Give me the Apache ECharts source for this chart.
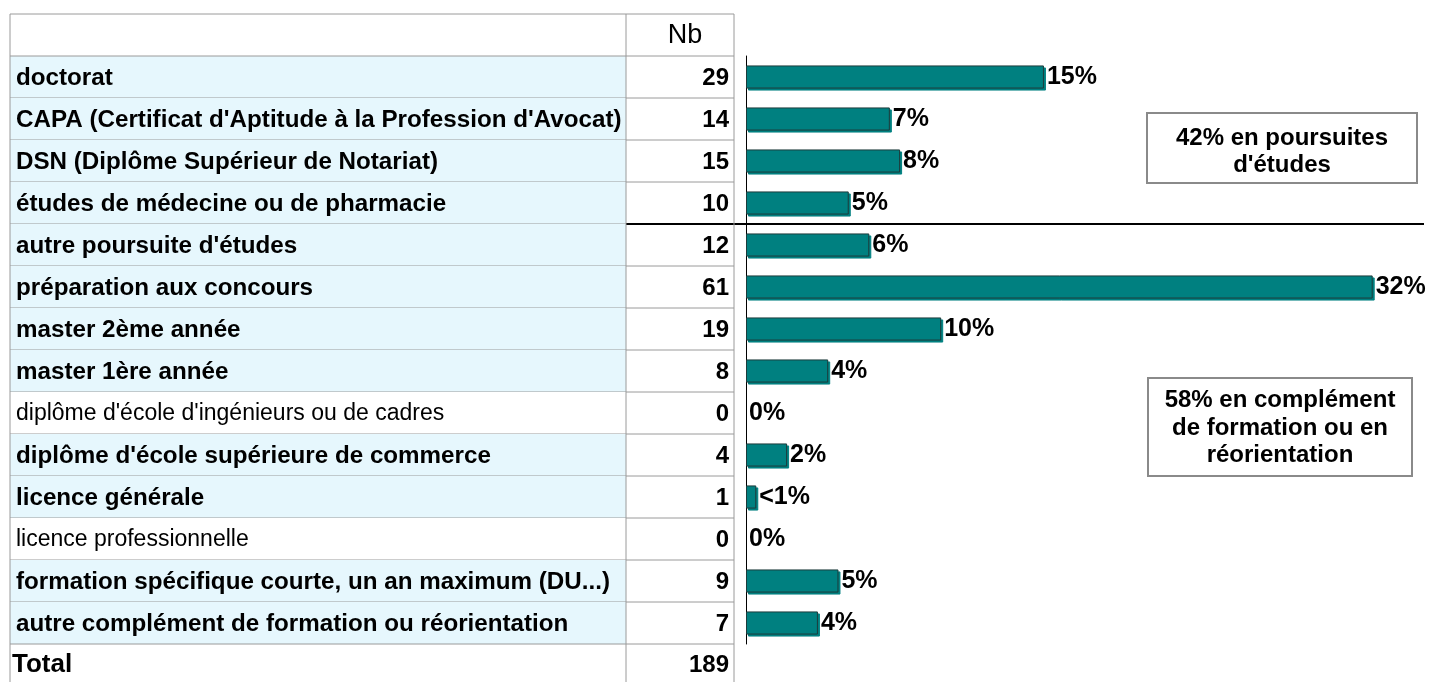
<!DOCTYPE html>
<html>
<head>
<meta charset="utf-8">
<script src="https://cdn.jsdelivr.net/npm/echarts@6/dist/echarts.min.js"></script>
<style>
html, body { margin: 0; padding: 0; background: #fff; }
#chart { width: 1429px; height: 682px; }
</style>
</head>
<body>
<div id="chart"></div>
<script>
var font = "'Liberation Sans', Arial, sans-serif";

// données du tableau
var categories = [
	"doctorat",
	"CAPA (Certificat d'Aptitude à la Profession d'Avocat)",
	"DSN (Diplôme Supérieur de Notariat)",
	"études de médecine ou de pharmacie",
	"autre poursuite d'études",
	"préparation aux concours",
	"master 2ème année",
	"master 1ère année",
	"diplôme d'école d'ingénieurs ou de cadres",
	"diplôme d'école supérieure de commerce",
	"licence générale",
	"licence professionnelle",
	"formation spécifique courte, un an maximum (DU...)",
	"autre complément de formation ou réorientation"
];
var counts = [29, 14, 15, 10, 12, 61, 19, 8, 0, 4, 1, 0, 9, 7];
var headerLabel = 'Nb';
var totalLabel = 'Total';
var notes = [
	"42% en poursuites\nd'études",
	"58% en complément\nde formation ou en\nréorientation"
];
var splitAfter = 3; // trait noir sous cette ligne

var total = 0;
for(var i = 0; i < counts.length; i++) {
	total += counts[i];
}

// colonnes du tableau
var colLeft = 10, colSep = 626, colRight = 734;
var gridTop = 56, gridH = 588;
var gray = '#9a9a9a';

function pct(v) {
	var p = v / total * 100;
	if(v > 0 && p < 1) return '<1%';
	return Math.round(p) + '%';
}

var option = {
	backgroundColor: '#fff',
	animation: false,
	grid: {
		left: 746,
		top: gridTop,
		width: 676,
		height: gridH
	},
	xAxis: {
		type: 'value',
		min: 0,
		max: 65.8,
		show: false
	},
	yAxis: {
		type: 'category',
		inverse: true,
		data: categories,
		axisLine: { show: true, lineStyle: { color: '#000', width: 1 } },
		axisTick: { show: false },
		axisLabel: { show: false },
		splitLine: { show: false }
	},
	graphic: [],
	series: [{
		name: 'Nb',
		type: 'bar',
		data: counts.map(function(v) {
			// pas de trait pour les valeurs nulles
			return v === 0 ? { value: v, itemStyle: { borderWidth: 0, shadowColor: 'rgba(0,0,0,0)' } } : v;
		}),
		barCategoryGap: '45%',
		itemStyle: {
			color: '#008080',
			borderColor: '#1d3b3b',
			borderWidth: 1,
			shadowColor: '#008080',
			shadowOffsetX: 2,
			shadowOffsetY: 2,
			shadowBlur: 0
		},
		label: {
			show: true,
			position: 'right',
			distance: 3,
			color: '#000',
			fontFamily: font,
			fontWeight: 'bold',
			fontSize: 25,
			formatter: function(p) {
				return pct(p.value);
			}
		},
		z: 3
	}, {
		// lignes du tableau
		type: 'custom',
		data: counts.map(function(c, i) { return [0, i]; }),
		encode: { x: 0, y: 1 },
		clip: false,
		z: 1,
		renderItem: function(params, api) {
			var idx = api.value(1);
			var yc = api.coord([0, idx])[1];
			var h = api.size([0, 1])[1];
			var top = yc - h / 2;
			var bold = counts[idx] > 0;
			var children = [{
				type: 'rect',
				shape: { x: colLeft, y: top, width: colSep - colLeft, height: h },
				style: { fill: bold ? '#e6f7fd' : '#fff' }
			}, {
				type: 'line',
				shape: { x1: colLeft, y1: top + h, x2: colRight, y2: top + h },
				style: { stroke: gray, lineWidth: 1 }
			}, {
				type: 'text',
				style: {
					x: colLeft + 6, y: yc + 1,
					text: categories[idx],
					fill: '#000',
					font: bold ? 'bold 24.2px ' + font : '23px ' + font,
					verticalAlign: 'middle'
				}
			}, {
				type: 'text',
				style: {
					x: colRight - 5, y: yc + 1,
					text: String(counts[idx]),
					fill: '#000',
					font: 'bold 24px ' + font,
					align: 'right',
					verticalAlign: 'middle'
				}
			}];
			if(idx === splitAfter) {
				children.push({
					type: 'line',
					shape: { x1: colSep, y1: top + h, x2: 1424, y2: top + h },
					style: { stroke: '#000', lineWidth: 2 },
					z2: 10
				});
			}
			return { type: 'group', children: children };
		}
	}]
};

// en-tête, total, bordures verticales, encadrés
var g = option.graphic;
g.push({ type: 'line', z: 100, shape: { x1: colLeft, y1: 14, x2: colRight, y2: 14 }, style: { stroke: gray } });
g.push({ type: 'line', z: 100, shape: { x1: colLeft, y1: gridTop, x2: colRight, y2: gridTop }, style: { stroke: gray } });
[colLeft, colSep, colRight].forEach(function(x) {
	g.push({ type: 'line', z: 100, shape: { x1: x, y1: 14, x2: x, y2: 682 }, style: { stroke: gray } });
});
g.push({
	type: 'text', z: 100, x: 685, y: 36,
	style: { text: headerLabel, font: '27px ' + font, fill: '#000', align: 'center', verticalAlign: 'middle' }
});
g.push({
	type: 'text', z: 100, x: colLeft + 2, y: gridTop + gridH + 21,
	style: { text: totalLabel, font: 'bold 26px ' + font, fill: '#000', verticalAlign: 'middle' }
});
g.push({
	type: 'text', z: 100, x: colRight - 5, y: gridTop + gridH + 21,
	style: { text: String(total), font: 'bold 24px ' + font, fill: '#000', align: 'right', verticalAlign: 'middle' }
});

var boxes = [
	{ x: 1147, y: 113, w: 270, h: 70, dy: 4 },
	{ x: 1148, y: 378, w: 264, h: 98, dy: 1 }
];
for(var b = 0; b < notes.length; b++) {
	g.push({
		type: 'rect', z: 100,
		shape: { x: boxes[b].x, y: boxes[b].y, width: boxes[b].w, height: boxes[b].h },
		style: { fill: '#fff', stroke: '#8a8a8a', lineWidth: 2 }
	});
	g.push({
		type: 'text', z: 101,
		x: boxes[b].x + boxes[b].w / 2, y: boxes[b].y + boxes[b].h / 2 + boxes[b].dy,
		style: {
			text: notes[b], font: 'bold 24px ' + font, fill: '#000',
			align: 'center', verticalAlign: 'middle', lineHeight: 27.5
		}
	});
}

var chart = echarts.init(document.getElementById('chart'));
chart.setOption(option);
</script>
</body>
</html>
